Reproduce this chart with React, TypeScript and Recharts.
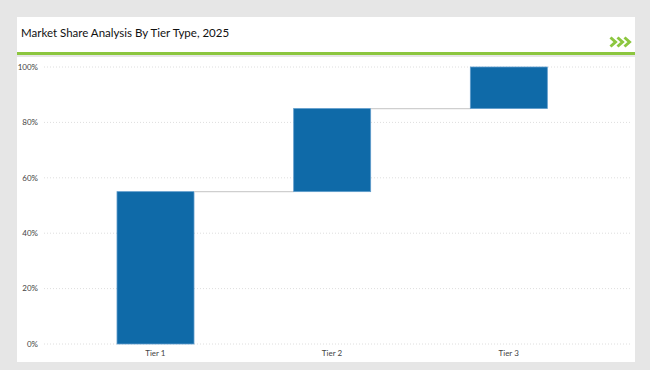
import React from 'react';
import { BarChart, Bar, XAxis, YAxis, CartesianGrid } from 'recharts';

const TIERS = ['Tier 1', 'Tier 2', 'Tier 3'];
const SHARES = [55, 30, 15];
const Y_TICKS = [0, 20, 40, 60, 80, 100];

const CHART_W = 618;
const CHART_H = 305;
const MARGIN = { top: 10, right: 3, left: 0, bottom: 0 };
const Y_AXIS_W = 27;
const PAD = { left: 23, right: 35 };
const BAR_SIZE = 77;

// band width of one category, used for the connector length
const PLOT_W = CHART_W - MARGIN.left - MARGIN.right - Y_AXIS_W;
const BAND = (PLOT_W - PAD.left - PAD.right) / TIERS.length;

// waterfall: invisible base + visible step
let running = 0;
const data = TIERS.map((tier, i) => {
  const row = { tier, base: running, share: SHARES[i] };
  running += SHARES[i];
  return row;
});

const StepBar = (props: any) => {
  const { x, y, width, height, index } = props;
  const last = index === data.length - 1;
  return (
    <g>
      <rect x={x} y={y} width={width} height={height} fill="#0f6aa8" stroke="#5f9ccb" strokeWidth={0.8} />
      {!last && (
        <line x1={x + width} y1={y} x2={x + width + (BAND - BAR_SIZE)} y2={y} stroke="#cfcfcf" strokeWidth={1.2} />
      )}
    </g>
  );
};

export default function App() {
  return (
    <div
      style={{
        position: 'absolute',
        left: 0,
        top: 0,
        width: 650,
        height: 370,
        background: '#e6e6e6',
        fontFamily: 'Lato, "Open Sans", sans-serif',
      }}
    >
      <div
        style={{
          position: 'absolute',
          left: 17,
          top: 17,
          width: 618,
          height: 35,
          background: '#fff',
          borderBottom: '3px solid #8cc63f',
        }}
      >
        <div style={{ position: 'absolute', left: 4, top: 9, fontSize: 11.5, color: '#111' }}>
          Market Share Analysis By Tier Type, 2025
        </div>
        <svg style={{ position: 'absolute', right: 2, top: 19 }} width={24} height={12}>
          {[0, 7, 14].map((dx) => (
            <polyline key={dx} points={`${dx + 1.5},1.5 ${dx + 6.5},6 ${dx + 1.5},10.5`} fill="none" stroke="#8cc63f" strokeWidth={3} />
          ))}
        </svg>
      </div>
      <div style={{ position: 'absolute', left: 17, top: 57, width: CHART_W, height: CHART_H, background: '#fff' }}>
        <BarChart width={CHART_W} height={CHART_H} data={data} margin={MARGIN} barSize={BAR_SIZE} style={{ overflow: 'visible' }}>
          <CartesianGrid vertical={false} stroke="#dedede" strokeDasharray="1 2" />
          <XAxis
            dataKey="tier"
            axisLine={false}
            tickLine={false}
            padding={PAD}
            height={18}
            tick={{ fontSize: 8, fill: '#444' }}
            tickMargin={0}
          />
          <YAxis
            domain={[0, 100]}
            ticks={Y_TICKS}
            width={Y_AXIS_W}
            axisLine={false}
            tickLine={false}
            tickFormatter={(v: number) => `${v}%`}
            tick={{ fontSize: 8, fill: '#444' }}
            tickMargin={0}
          />
          <Bar dataKey="base" stackId="w" fill="transparent" isAnimationActive={false} />
          <Bar dataKey="share" stackId="w" shape={<StepBar />} isAnimationActive={false} />
        </BarChart>
      </div>
    </div>
  );
}
